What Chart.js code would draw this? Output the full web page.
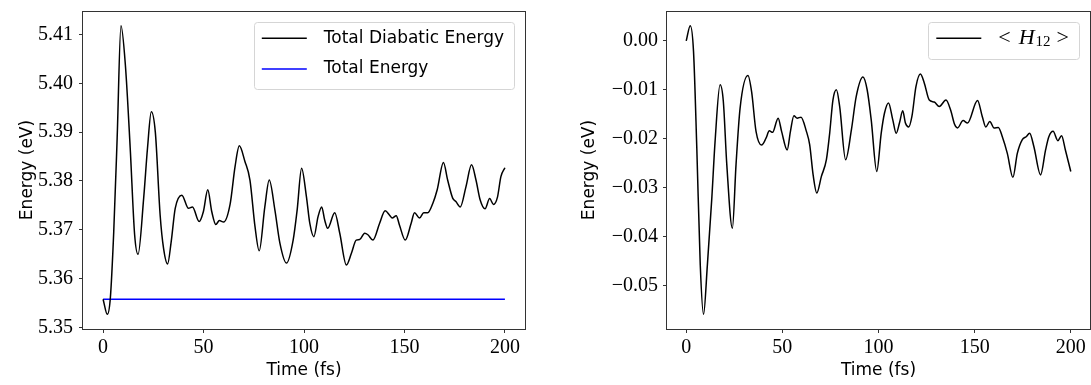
<!DOCTYPE html>
<html>
<head>
<meta charset="utf-8">
<script src="https://cdn.jsdelivr.net/npm/chart.js@4.4.0/dist/chart.umd.min.js"></script>
<style>
  html, body { margin: 0; padding: 0; background: #fff; }
  #left { position: absolute; left: 0; top: 0; }
  #right { position: absolute; left: 545px; top: 0; }
</style>
</head>
<body>
<canvas id="left" width="545" height="385"></canvas>
<canvas id="right" width="546" height="385"></canvas>
<script>
// Left panel: total diabatic energy vs time (fs)
const diabaticTimes = [0, 2.1, 3.6, 5.3, 7.0, 8.9, 11.1, 13.5, 15.7, 17.4, 20.2, 22.1, 24.0, 26.0, 28.4,
  30.1, 32.1, 33.9, 35.9, 39.2, 42.5, 44.5, 47.8, 49.9, 52.1, 54.1, 56.1, 57.9, 60.0, 63.2, 65.7,
  67.8, 70.6, 73.1, 75.6, 77.7, 80.5, 82.7, 85.5, 88.0, 91.3, 94.6, 96.6, 98.8, 101.2, 102.9,
  104.9, 107.0, 108.8, 110.3, 111.8, 115.3, 117.8, 121.1, 123.6, 126.0, 127.7, 130.2, 131.8,
  134.3, 137.6, 140.4, 142.6, 143.9, 145.9, 147.5, 150.4, 153.3, 155.0, 157.5, 159.6, 161.6,
  164.1, 166.3, 169.4, 171.5, 174.0, 175.6, 177.8, 180.6, 183.4, 185.6, 187.7, 190.1, 192.4,
  194.3, 196.3, 198.0, 200.0];
const diabaticEnergy = [5.3558, 5.3527, 5.3560, 5.3696, 5.3888, 5.4118, 5.4037, 5.3867, 5.3690, 5.3650,
  5.3765, 5.3867, 5.3942, 5.3900, 5.3730, 5.3662, 5.3630, 5.3676, 5.3744, 5.3771, 5.3744, 5.3747,
  5.3717, 5.3737, 5.3782, 5.3737, 5.3711, 5.3719, 5.3716, 5.3752, 5.3830, 5.3872, 5.3840, 5.3802,
  5.3707, 5.3657, 5.3747, 5.3802, 5.3741, 5.3673, 5.3632, 5.3679, 5.3741, 5.3826, 5.3768, 5.3713,
  5.3686, 5.3727, 5.3747, 5.3720, 5.3703, 5.3735, 5.3693, 5.3628, 5.3652, 5.3679, 5.3680, 5.3693,
  5.3690, 5.3679, 5.3713, 5.3739, 5.3730, 5.3724, 5.3729, 5.3710, 5.3679, 5.3713, 5.3735, 5.3724,
  5.3735, 5.3735, 5.3754, 5.3782, 5.3838, 5.3802, 5.3765, 5.3758, 5.3747, 5.3788, 5.3833, 5.3802,
  5.3761, 5.3743, 5.3764, 5.3752, 5.3767, 5.3809, 5.3827];
const totalTimes = [0, 200];
const totalEnergy = [5.3558, 5.3558];

// Right panel: <H12> coupling vs time (fs)
const couplingTimes = [0, 2.1, 3.8, 5.5, 7.3, 9.0, 11.0, 13.3, 15.0, 17.6, 19.3, 21.1, 24.0, 25.9, 28.0,
  32.1, 34.0, 36.3, 39.2, 41.5, 43.2, 44.9, 47.8, 49.6, 52.5, 54.2, 56.0, 57.7, 59.7, 62.5, 64.2,
  66.0, 67.9, 70.3, 72.9, 74.6, 76.3, 78.1, 79.8, 82.9, 85.9, 88.4, 91.9, 94.1, 96.2, 99.1, 101.4,
  103.1, 105.2, 107.4, 109.2, 110.9, 112.6, 114.0, 115.7, 117.4, 119.5, 121.8, 123.8, 126.4, 129.0,
  131.6, 135.1, 137.7, 139.5, 141.1, 144.0, 146.3, 151.5, 154.0, 155.8, 157.9, 160.1, 162.3, 164.4,
  167.0, 169.9, 172.2, 174.8, 176.8, 178.6, 180.8, 184.3, 186.9, 188.6, 190.8, 193.3, 195.2, 197.2,
  200.0];
const couplingValues = [0.0, 0.0031, -0.0022, -0.0219, -0.0458, -0.0559, -0.0458, -0.0322, -0.0206,
  -0.0090, -0.0124, -0.0253, -0.0383, -0.0253, -0.0138, -0.0071, -0.0104, -0.0185, -0.0213, -0.0199,
  -0.0184, -0.0187, -0.0158, -0.0185, -0.0223, -0.0185, -0.0153, -0.0158, -0.0156, -0.0185, -0.0212,
  -0.0274, -0.0311, -0.0277, -0.0243, -0.0189, -0.0121, -0.0100, -0.0134, -0.0243, -0.0182, -0.0114,
  -0.0074, -0.0100, -0.0161, -0.0267, -0.0189, -0.0148, -0.0127, -0.0161, -0.0189, -0.0168, -0.0143,
  -0.0168, -0.0176, -0.0154, -0.0093, -0.0068, -0.0086, -0.0121, -0.0125, -0.0134, -0.0121, -0.0144,
  -0.0170, -0.0178, -0.0163, -0.0168, -0.0122, -0.0155, -0.0176, -0.0165, -0.0178, -0.0177, -0.0196,
  -0.0230, -0.0279, -0.0230, -0.0202, -0.0196, -0.0189, -0.0216, -0.0274, -0.0223, -0.0196, -0.0185,
  -0.0204, -0.0194, -0.0223, -0.0267];

// tick labels
const timeTicks = [0, 50, 100, 150, 200];
const energyTicks = [5.35, 5.36, 5.37, 5.38, 5.39, 5.40, 5.41];
const couplingTicks = [-0.05, -0.04, -0.03, -0.02, -0.01, 0.0];

const SERIF = "'Liberation Serif', serif";
const SANS = "'DejaVu Sans', sans-serif";
const AXIS = "#333";

function points(xs, ys) {
  return xs.map((x, i) => ({ x: x, y: ys[i] }));
}

// matplotlib-like box around the plot area
const frame = {
  id: "frame",
  afterDraw(chart) {
    const a = chart.chartArea;
    const ctx = chart.ctx;
    ctx.save();
    ctx.strokeStyle = AXIS;
    ctx.lineWidth = 1;
    ctx.strokeRect(Math.round(a.left) - 0.5, Math.round(a.top) + 0.5,
      Math.round(a.right - a.left) + 1, Math.round(a.bottom - a.top));
    ctx.restore();
  }
};

// legend in a rounded box at the top right of the plot area
const boxLegend = {
  id: "boxLegend",
  afterDraw(chart, args, opts) {
    const ctx = chart.ctx;
    const a = chart.chartArea;
    const sets = chart.data.datasets;
    ctx.save();
    let textW = 0;
    const widths = sets.map((ds, i) => {
      let w = 0;
      const segs = (opts.rich && opts.rich[i]) || [{ t: ds.label, font: opts.font }];
      segs.forEach(s => { ctx.font = s.font; w += ctx.measureText(s.t).width + (s.gap || 0); });
      return w;
    });
    widths.forEach(w => { textW = Math.max(textW, w); });
    const boxW = 8 + 45 + 17 + textW + 10;
    const boxH = 6 + sets.length * 30.7;
    const x0 = a.right - 11 - boxW;
    const y0 = a.top + 11.3;
    ctx.fillStyle = "rgba(255,255,255,0.8)";
    ctx.strokeStyle = "#d5d5d5";
    ctx.lineWidth = 1;
    ctx.beginPath();
    ctx.roundRect(Math.round(x0) + 0.5, Math.round(y0) + 0.5, Math.round(boxW), Math.round(boxH), 3);
    ctx.fill();
    ctx.stroke();
    sets.forEach((ds, i) => {
      const cy = y0 + 16 + i * 30.7;
      ctx.strokeStyle = ds.borderColor;
      ctx.lineWidth = ds.borderWidth;
      ctx.beginPath();
      ctx.moveTo(x0 + 8, cy);
      ctx.lineTo(x0 + 53, cy);
      ctx.stroke();
      ctx.fillStyle = "#000";
      ctx.textBaseline = "middle";
      let tx = x0 + 70;
      const segs = (opts.rich && opts.rich[i]) || [{ t: ds.label, font: opts.font }];
      segs.forEach(s => {
        ctx.font = s.font;
        ctx.fillText(s.t, tx, cy + (s.dy || 0));
        tx += ctx.measureText(s.t).width + (s.gap || 0);
      });
    });
    ctx.restore();
  }
};

function makeScales(yMin, yMax, yTicks, yFormat, yWidth, titlePad, tickPad) {
  return {
    x: {
      type: "linear",
      min: -10,
      max: 210,
      afterBuildTicks: s => { s.ticks = timeTicks.map(v => ({ value: v })); },
      afterFit: s => { s.height = 56; s.paddingLeft = 0; s.paddingRight = 0; },
      grid: { display: true, drawOnChartArea: false, drawTicks: true, tickLength: 4, color: AXIS },
      border: { display: false },
      ticks: { font: { family: SERIF, size: 20 }, color: "#000", padding: 3, maxRotation: 0,
        callback: v => String(v) },
      title: { display: true, text: "Time (fs)", font: { family: SANS, size: 17 }, color: "#000",
        padding: { top: 0, bottom: 4 } }
    },
    y: {
      min: yMin,
      max: yMax,
      afterBuildTicks: s => { s.ticks = yTicks.map(v => ({ value: v })); },
      afterFit: s => { s.width = yWidth; s.paddingTop = 0; s.paddingBottom = 0; },
      grid: { display: true, drawOnChartArea: false, drawTicks: true, tickLength: 4, color: AXIS },
      border: { display: false },
      ticks: { font: { family: SERIF, size: 20 }, color: "#000", padding: tickPad, callback: yFormat },
      title: { display: true, text: "Energy (eV)", font: { family: SANS, size: 17 }, color: "#000",
        padding: { top: titlePad, bottom: 0 } }
    }
  };
}

new Chart(document.getElementById("left"), {
  type: "line",
  data: {
    datasets: [
      { label: "Total Diabatic Energy", data: points(diabaticTimes, diabaticEnergy),
        borderColor: "#000000", borderWidth: 1.5, pointRadius: 0, cubicInterpolationMode: "monotone" },
      { label: "Total Energy", data: points(totalTimes, totalEnergy),
        borderColor: "#0000ff", borderWidth: 1.5, pointRadius: 0 }
    ]
  },
  options: {
    responsive: false,
    animation: false,
    layout: { padding: { top: 11, right: 20, bottom: 0, left: 0 } },
    scales: makeScales(5.3497, 5.4148, energyTicks, v => Number(v).toFixed(2), 83, 17, 6),
    plugins: {
      legend: { display: false },
      tooltip: { enabled: false },
      boxLegend: { font: "17px " + SANS }
    }
  },
  plugins: [frame, boxLegend]
});

new Chart(document.getElementById("right"), {
  type: "line",
  data: {
    datasets: [
      { label: "< H₁₂ >", data: points(couplingTimes, couplingValues),
        borderColor: "#000000", borderWidth: 1.5, pointRadius: 0, cubicInterpolationMode: "monotone" }
    ]
  },
  options: {
    responsive: false,
    animation: false,
    layout: { padding: { top: 11, right: 1, bottom: 0, left: 0 } },
    scales: makeScales(-0.0589, 0.0061, couplingTicks,
      v => (Math.abs(v) < 1e-9 ? "0.00" : (v < 0 ? "\u2212" : "") + Math.abs(v).toFixed(2)), 122, 34, 5),
    plugins: {
      legend: { display: false },
      tooltip: { enabled: false },
      boxLegend: {
        font: "22px " + SERIF,
        rich: [[
          { t: "<", font: "22px " + SERIF, gap: 8 },
          { t: "H", font: "italic 22px " + SERIF, gap: 1 },
          { t: "12", font: "15px " + SERIF, dy: 4, gap: 6 },
          { t: ">", font: "22px " + SERIF }
        ]]
      }
    }
  },
  plugins: [frame, boxLegend]
});
</script>
</body>
</html>
